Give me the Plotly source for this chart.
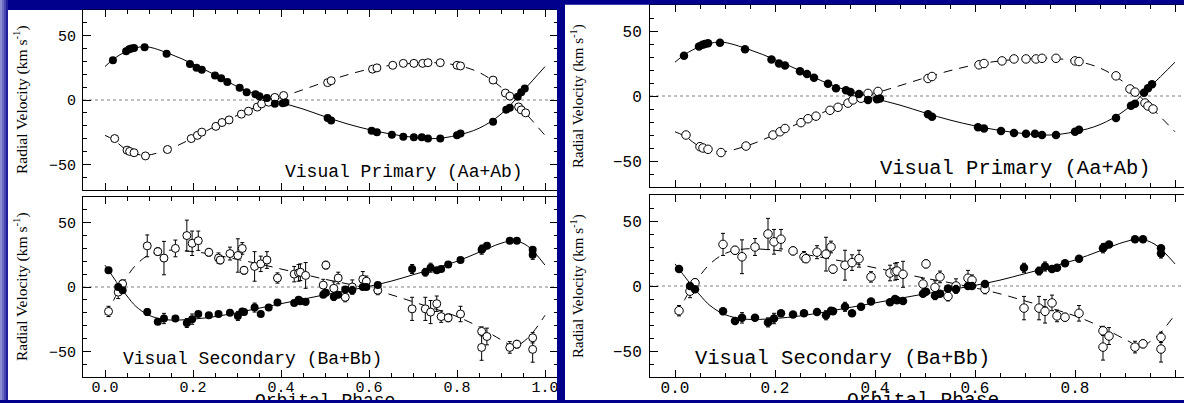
import plotly.graph_objects as go

W, H = 1184, 403
BLUE = "#00008c"
MONO = "Liberation Mono"
SERIF = "Liberation Serif"

# ---------------- Visual primary (Aa+Ab) ----------------
aa_phase = [0.018, 0.048, 0.055, 0.060, 0.066, 0.090, 0.140, 0.193, 0.208, 0.220,
            0.250, 0.264, 0.278, 0.306, 0.322, 0.342, 0.351, 0.368, 0.386, 0.404,
            0.410, 0.506, 0.514, 0.606, 0.618, 0.652, 0.678, 0.702, 0.720, 0.734,
            0.762, 0.800, 0.808, 0.882, 0.912, 0.920, 0.938, 0.946, 0.954]
aa_rv = [31, 38, 39.5, 40, 40.5, 41, 36, 28, 25, 23.5,
         19, 17, 14, 9.5, 6, 4.5, 3, 1.5, -3, -2.5,
         -2, -14, -16, -24, -25, -27, -28.5, -29, -29, -30,
         -30, -27.5, -26, -17, -7.5, -6, 2.5, 6, 9]

ab_phase = [0.022, 0.050, 0.056, 0.066, 0.092, 0.142, 0.196, 0.210, 0.220, 0.252,
            0.266, 0.282, 0.310, 0.326, 0.346, 0.356, 0.372, 0.386, 0.406, 0.506,
            0.514, 0.608, 0.618, 0.654, 0.678, 0.702, 0.722, 0.734, 0.762, 0.800,
            0.808, 0.882, 0.910, 0.920, 0.940, 0.946, 0.956]
ab_rv = [-30, -39, -40, -41, -43.5, -38.5, -30, -27.5, -25, -20.5,
         -17.5, -15.5, -11, -8.7, -5.5, -3, -1.7, 2, 3.5, 13.5,
         15, 24, 25, 27, 28.5, 28.5, 28.5, 29, 29, 27,
         26.5, 15.5, 5.4, 3, -5.4, -7.7, -10]

orbit_phase_a = [0, 0.02, 0.05, 0.09, 0.15, 0.2, 0.25, 0.3, 0.35, 0.4, 0.45,
                 0.5, 0.55, 0.6, 0.65, 0.7, 0.75, 0.8, 0.85, 0.9, 0.95, 1.0]
orbit_aa = [26, 32, 38, 41.5, 35.5, 28, 19.5, 10.5, 3.5, -2, -7,
            -13, -18.5, -23, -26.5, -29, -30, -27.5, -22, -11, 7, 26]
orbit_ab = [-27.5, -31, -39, -43, -37.5, -29.5, -20.5, -12, -4.5, 2, 8,
            14, 19.5, 24, 27, 28.5, 29, 27, 21.5, 10, -8, -27.5]

# ---------------- Visual secondary (Ba+Bb) ----------------
ba_phase = [0.008, 0.030, 0.040, 0.096, 0.120, 0.134, 0.160, 0.186, 0.198, 0.212,
            0.236, 0.258, 0.284, 0.302, 0.312, 0.316, 0.340, 0.354, 0.372, 0.392,
            0.430, 0.440, 0.444, 0.456, 0.496, 0.502, 0.520, 0.530, 0.546, 0.562,
            0.586, 0.594, 0.620, 0.698, 0.728, 0.740, 0.754, 0.764, 0.780, 0.808,
            0.856, 0.858, 0.868, 0.920, 0.936, 0.972, 0.972]
ba_rv = [13, 0, -2.5, -19.5, -27, -24.5, -24.5, -28, -25, -21,
         -22, -21, -20, -22.5, -19, -19.5, -16, -21, -16, -12,
         -12.5, -10, -11, -11.5, -6, -4.5, -7.5, -6, -2, -2.5,
         0, 0, 1.5, 14, 11.5, 15, 13, 14, 17.5, 21,
         29, 30, 32, 36, 36, 29, 25]
ba_err = [1.5, 1.5, 1.5, 2.5, 1.5, 4, 1.5, 3.5, 4, 1.5,
          1.5, 1.5, 1.5, 3.5, 1.5, 2, 3.5, 1.5, 1.5, 1.5,
          1.5, 1.5, 2, 2.5, 1.5, 1.5, 3, 1.5, 1.5, 3,
          1.5, 1.5, 1.5, 3.5, 3, 3.5, 1.5, 1.5, 1.5, 1.5,
          3.5, 1.5, 1.5, 1.5, 1.5, 1.5, 3.5]

bb_phase = [0.008, 0.030, 0.040, 0.096, 0.120, 0.134, 0.160, 0.186, 0.198, 0.212,
            0.236, 0.258, 0.262, 0.284, 0.302, 0.312, 0.316, 0.340, 0.354, 0.368,
            0.392, 0.430, 0.440, 0.444, 0.456, 0.496, 0.502, 0.520, 0.530, 0.546,
            0.562, 0.586, 0.594, 0.620, 0.698, 0.728, 0.740, 0.754, 0.764, 0.780,
            0.808, 0.856, 0.856, 0.868, 0.920, 0.936, 0.972, 0.972]
bb_rv = [-19, -4, 2.5, 32, 27.5, 22.5, 30, 40, 34, 36,
         27, 22.5, 21, 26, 24.5, 30, 13, 16, 18, 21,
         7, 10, 11, 11.5, 9, 1.5, 17, -1, 7, -8,
         0, 6, 4.5, -2.5, -17, -17, -19.5, -13, -23, -24,
         -21, -34.5, -47, -38.5, -47, -44.5, -39.5, -48.5]
bb_err = [4, 5, 3, 8.5, 3, 13, 6.5, 12, 9.5, 7.5,
          3, 4, 3, 5, 13, 4.5, 3, 11.5, 6, 6.5,
          4, 6, 6.5, 6.5, 10, 4.5, 3, 5, 4.5, 3.5,
          5.5, 6, 4, 3.5, 9, 9, 9, 6, 4.5, 3,
          6, 3.5, 10, 6.5, 4.5, 3, 4, 10]

orbit_phase_b = [0, 0.02, 0.03, 0.05, 0.07, 0.1, 0.14, 0.2, 0.25, 0.3, 0.35, 0.4,
                 0.45, 0.5, 0.55, 0.6, 0.65, 0.7, 0.75, 0.8, 0.85, 0.9, 0.93,
                 0.96, 1.0]
orbit_ba = [17, 7, 2, -7, -15, -22, -25.5, -25, -23, -20, -16.5, -13,
            -9.5, -6, -3, 0.5, 4.5, 9.5, 14.5, 20, 27, 34, 36,
            32, 17]
orbit_bb = [-21.5, -10, -3, 8, 17, 25, 28.5, 27.5, 25, 21.5, 18, 14,
            10, 6, 2.5, -1.5, -6, -11.5, -17, -23, -31, -41, -46,
            -40, -22]

x_ticks = [0.0, 0.2, 0.4, 0.6, 0.8, 1.0]
x_ticktext = ["0.0", "0.2", "0.4", "0.6", "0.8", "1.0"]
y_ticks = [-50, 0, 50]


def fx(px):
    return px / W


def fy(py):
    return 1 - py / H


fig = go.Figure()

# two copies of the figure: pixel spans, phase range and text sizes for each
copies = [
    dict(x=(83, 557.5), xr=(-0.05, -0.05 + (557.5 - 83) / 440.0),
         top=(10, 190), bot=(197, 377), mirror_y=True, title_x=20, xlab=325,
         note=18, tick=15, lab=18, ystand=3, msize=8, title=15.5),
    dict(x=(650, 1184), xr=(-0.05, -0.05 + (1184 - 650) / 500.0),
         top=(5, 187), bot=(195, 377), mirror_y=False, title_x=577, xlab=923,
         note=20.5, tick=16, lab=19.5, ystand=4, msize=8.5, title=15),
]

dash = "9px,7px"
ax_n = 0
annotations = []
shapes = []
for c in copies:
    for panel in ("top", "bot"):
        ax_n += 1
        sfx = "" if ax_n == 1 else str(ax_n)
        xa, ya = "x" + sfx, "y" + sfx
        y0, y1 = c[panel]
        fig.layout["xaxis" + sfx] = dict(
            domain=[fx(c["x"][0]), fx(c["x"][1])], range=list(c["xr"]),
            anchor=ya, tickvals=x_ticks, ticktext=x_ticktext,
            ticks="inside", ticklen=7, tickcolor="black", tickwidth=1,
            minor=dict(dtick=0.05, tick0=0, ticks="inside", ticklen=4,
                       tickcolor="black", tickwidth=1),
            showline=True, linecolor="black", linewidth=1, mirror="allticks",
            showgrid=False, zeroline=False, showticklabels=(panel == "bot"),
            tickfont=dict(family=MONO, size=c["tick"], color="black"),
            ticklabelstandoff=-4,
        )
        fig.layout["yaxis" + sfx] = dict(
            domain=[fy(y1), fy(y0)], range=[-70, 70], anchor=xa,
            tickvals=y_ticks, ticks="inside", ticklen=8, tickcolor="black",
            minor=dict(dtick=10, tick0=0, ticks="inside", ticklen=4,
                       tickcolor="black"),
            showline=True, linecolor="black", linewidth=1,
            mirror="allticks" if c["mirror_y"] else False,
            showgrid=False, zeroline=False,
            tickfont=dict(family=MONO, size=c["tick"], color="black"),
            ticklabelstandoff=c["ystand"],
        )
        # dotted zero-velocity reference
        shapes.append(dict(type="line", xref=xa + " domain", yref=ya,
                           x0=0, x1=1, y0=0, y1=0, layer="below",
                           line=dict(color="#808080", width=1, dash="dot")))
        if panel == "top":
            p, s1, s2 = orbit_phase_a, orbit_aa, orbit_ab
            fp, fv, fe = aa_phase, aa_rv, None
            op, ov, oe = ab_phase, ab_rv, None
            label, lx = "Visual Primary (Aa+Ab)", 0.68
        else:
            p, s1, s2 = orbit_phase_b, orbit_ba, orbit_bb
            fp, fv, fe = ba_phase, ba_rv, ba_err
            op, ov, oe = bb_phase, bb_rv, bb_err
            label, lx = "Visual Secondary (Ba+Bb)", 0.335
        fig.add_trace(go.Scatter(x=p, y=s1, xaxis=xa, yaxis=ya, mode="lines",
                                 line=dict(color="black", width=1, shape="spline"),
                                 hoverinfo="skip"))
        fig.add_trace(go.Scatter(x=p, y=s2, xaxis=xa, yaxis=ya, mode="lines",
                                 line=dict(color="black", width=1, shape="spline",
                                           dash=dash),
                                 hoverinfo="skip"))
        ebar = lambda e: (dict(type="data", array=e, color="black", thickness=1,
                               width=2) if e is not None else None)
        fig.add_trace(go.Scatter(x=op, y=ov, xaxis=xa, yaxis=ya, mode="markers",
                                 error_y=ebar(oe),
                                 marker=dict(symbol="circle", size=c["msize"],
                                             color="white",
                                             line=dict(color="black", width=1))))
        fig.add_trace(go.Scatter(x=fp, y=fv, xaxis=xa, yaxis=ya, mode="markers",
                                 error_y=ebar(fe),
                                 marker=dict(symbol="circle", size=c["msize"],
                                             color="black",
                                             line=dict(color="black", width=0))))
        annotations.append(dict(text=label, x=lx, y=-56, xref=xa, yref=ya,
                                showarrow=False, xanchor="center", yanchor="middle",
                                font=dict(family=MONO, size=c["note"], color="black")))
        annotations.append(dict(text="Radial Velocity (km s<sup>-1</sup>)",
                                x=fx(c["title_x"]), y=fy((y0 + y1) / 2),
                                xref="paper", yref="paper", textangle=-90,
                                showarrow=False, xanchor="center", yanchor="middle",
                                font=dict(family=SERIF, size=c["title"],
                                          color="black")))
        if panel == "bot":
            annotations.append(dict(text="Orbital Phase", x=fx(c["xlab"]),
                                    y=fy(400.5), xref="paper", yref="paper",
                                    showarrow=False, xanchor="center",
                                    yanchor="middle",
                                    font=dict(family=MONO, size=c["lab"],
                                              color="black")))

# strip of slide border along the bottom edge, over the axis title
annotations.append(dict(text=" ", x=0, y=0, xref="paper", yref="paper",
                        xanchor="left", yanchor="bottom", showarrow=False,
                        width=W, height=3, bgcolor=BLUE, borderpad=0, borderwidth=0,
                        font=dict(size=1)))

# white page areas behind the two copies
shapes = [
    dict(type="rect", xref="paper", yref="paper", x0=fx(8), x1=fx(557), y0=fy(400),
         y1=fy(10), fillcolor="white", line=dict(width=0), layer="below"),
    dict(type="rect", xref="paper", yref="paper", x0=fx(565), x1=1, y0=fy(400),
         y1=fy(4.5), fillcolor="white", line=dict(width=0), layer="below"),
] + shapes

# blue slide frame drawn over the figure edges
frame = [
    (0, 557, 0, 9.6), (557, 1184, 0, 4.4), (557, 565, 0, 403), (0, 1184, 400, 403),
]
for x0, x1, y0, y1 in frame:
    shapes.append(dict(type="rect", xref="paper", yref="paper", x0=fx(x0), x1=fx(x1),
                       y0=fy(y1), y1=fy(y0), fillcolor=BLUE, line=dict(width=0),
                       layer="above"))
edge_cols = ["#8c8cd2", "#6c6cc4", "#4646b0", "#20209c"]
for i, col in enumerate(edge_cols):
    shapes.append(dict(type="rect", xref="paper", yref="paper", x0=fx(2 * i),
                       x1=fx(2 * i + 2), y0=0, y1=1, fillcolor=col,
                       line=dict(width=0), layer="above"))

fig.update_layout(
    width=W, height=H, margin=dict(l=0, r=0, t=0, b=0), autosize=False,
    paper_bgcolor=BLUE, plot_bgcolor="rgba(0,0,0,0)", showlegend=False,
    shapes=shapes, annotations=annotations,
)

fig.write_html("out.html")
